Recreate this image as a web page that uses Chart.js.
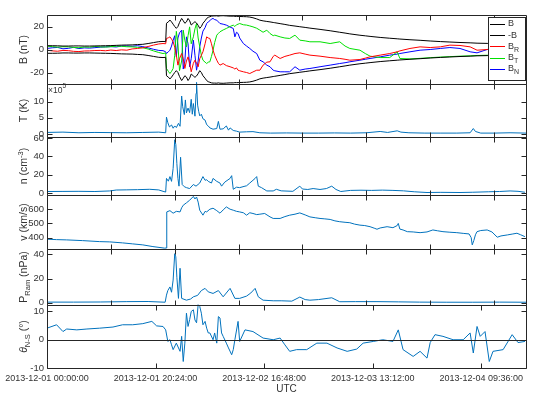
<!DOCTYPE html>
<html>
<head>
<meta charset="utf-8">
<title>Solar wind event, 2013-12-01 to 2013-12-04</title>
<script src="https://cdn.jsdelivr.net/npm/chart.js@4.4.1/dist/chart.umd.min.js"></script>
<style>
  html, body { margin: 0; padding: 0; background: #fff; }
  #wrap { position: relative; width: 536px; height: 397px; }
  #wrap canvas { position: absolute; left: 0; top: 0; }
</style>
</head>
<body>
<div id="wrap">
  <canvas id="panelB" width="536" height="397"></canvas>
  <canvas id="panelT" width="536" height="397"></canvas>
  <canvas id="panelN" width="536" height="397"></canvas>
  <canvas id="panelV" width="536" height="397"></canvas>
  <canvas id="panelP" width="536" height="397"></canvas>
  <canvas id="panelTheta" width="536" height="397"></canvas>
</div>
<script>
// --- Data (hours since 2013-12-01 00:00 UTC) ---

// magnetic field, nT
const magHours = [0, 1, 2, 3, 4, 5, 6, 7, 8, 9, 10, 11, 12, 13, 14, 15, 16, 17, 18, 19, 20, 21, 21.8, 22.3,
  22.45, 22.8, 23.1, 23.4, 23.7, 24.0, 24.3, 24.6, 24.9, 25.3, 25.6, 25.9, 26.2, 26.5, 26.8, 27.1, 27.5, 27.8,
  28.1, 28.4, 28.7, 29.0, 29.3, 29.7, 30.0, 30.3, 30.6, 30.9, 31.2, 31.5, 31.9, 32.2, 32.5, 33.1, 33.7, 34.4,
  35.0, 35.3, 35.6, 35.9, 36.2, 36.9, 37.5, 38.1, 38.7, 39.4, 40.0, 40.6, 41.3, 41.9, 42.5, 42.8, 43.8, 44.7,
  45.6, 46.6, 47.5, 48.5, 49.4, 51.3, 53.2, 55.0, 56.0, 56.9, 58.8, 59.8, 60.7, 62.6, 64.4, 65.8, 66.3, 68.2,
  70.1, 72.0, 73.9, 75.7, 77.6, 79.5, 80.8, 82.7, 85.1, 87.6, 89.8];
const bTotal = [3.3, 3.3, 3.2, 3.0, 3.0, 3.1, 3.1, 3.0, 3.0, 3.1, 3.2, 3.3, 3.4, 3.6, 3.8, 3.9, 4.0, 4.3, 4.5, 5.2, 6.0, 6.8, 7.0, 6.8,
  22.8, 24.0, 25.6, 24.0, 22.0, 20.0, 18.4, 20.0, 23.5, 27.0, 25.0, 22.8, 24.0, 27.0, 25.0, 21.3, 23.0, 24.2,
  23.0, 21.0, 18.4, 20.0, 22.8, 25.0, 27.0, 28.0, 28.5, 29.0, 29.2, 29.2, 29.3, 29.0, 29.3, 29.4, 29.2, 29.0,
  29.0, 28.8, 28.8, 28.8, 28.7, 28.6, 28.5, 28.2, 27.6, 26.6, 25.5, 24.9, 24.4, 24.0, 23.5, 23.3, 22.5, 21.8,
  21.0, 20.4, 19.8, 19.2, 18.6, 17.5, 16.3, 15.0, 14.3, 13.6, 12.4, 11.9, 11.4, 10.5, 9.8, 9.3, 9.1, 8.5,
  8.0, 7.4, 6.9, 6.5, 6.1, 5.8, 5.5, 5.3, 4.8, 4.3, 4.0];
const bR = [-0.6, -1.2, -1.5, -0.8, -1.0, -1.6, -1.8, -1.3, -1.2, -0.9, -0.8, -1.1, -0.5, -0.9, -0.3, -0.6, 0.5, 0.9, 1.5, 2.6, 3.8, 4.8, 5.2, 5.0,
  9.6, 10.2, 11.0, 9.0, 6.7, 2.0, -5.0, -13.6, -8.0, -3.5, -8.0, -16.5, -10.0, -6.4, -12.0, -19.4, -12.0, -9.3,
  -12.0, -15.0, -8.0, -5.0, -2.0, 5.0, 11.0, 10.0, 9.6, 5.0, -0.6, -5.0, -9.3, -12.0, -13.6, -12.2, -14.0, -15.0,
  -16.0, -17.0, -16.0, -18.0, -18.5, -19.4, -20.0, -20.9, -19.5, -18.0, -18.0, -13.6, -11.0, -10.7, -6.0, -4.9, -7.8, -6.0,
  -4.9, -3.5, -2.9, -4.0, -4.9, -5.8, -7.0, -7.8, -8.5, -9.3, -8.7, -7.5, -6.4, -4.9, -3.5, -2.0, -1.2, 0.9,
  2.3, 1.7, 2.3, 3.8, 3.5, 2.3, -0.6, 0.0, 1.0, 1.7, 0.9];
const bT = [2.9, 2.5, 2.0, 2.4, 2.3, 1.8, 1.5, 2.2, 2.0, 2.6, 2.3, 2.1, 2.5, 2.9, 2.8, 2.4, 2.3, 1.9, 1.5, 0.4, -1.2, -2.6, -3.5, -3.0,
  -16.5, -19.0, -20.9, -19.0, -16.5, -5.0, 15.8, 5.0, -18.4, -10.0, 16.8, 8.0, 2.3, 12.0, 19.7, 5.0, 11.0, 18.0,
  22.6, 10.0, 2.3, -5.0, -9.3, -11.0, -12.2, -11.0, -10.7, -6.0, -0.6, 6.0, 12.5, 14.0, 15.4, 17.0, 18.3, 20.0,
  21.2, 20.0, 21.5, 22.0, 22.6, 21.5, 21.2, 20.5, 19.7, 18.5, 16.8, 15.0, 16.8, 13.9, 12.0, 12.5, 11.0, 10.0,
  9.6, 12.5, 8.1, 7.5, 6.7, 6.7, 5.2, 6.7, 3.0, 0.9, -0.6, -3.5, -5.8, -7.0, -7.0, -2.0, -7.8, -8.2,
  -7.7, -7.1, -6.6, -6.2, -5.8, -5.5, -5.2, -5.0, -4.5, -4.0, -3.6];
const bN = [0.9, 1.5, 1.8, 0.6, 1.0, 1.9, 0.8, 1.4, 1.2, 1.6, 2.0, 2.3, 2.5, 2.2, 3.0, 3.1, 2.8, 3.3, 2.5, 1.4, 0.2, -0.8, -1.0, -2.0,
  -3.5, -2.0, -0.6, 3.0, 8.1, 12.0, -6.4, 10.0, 14.5, 16.8, -17.0, -10.0, 11.0, 5.0, -15.0, -8.0, 8.1, -5.0,
  -18.0, -10.0, 2.3, 10.0, 16.0, 19.0, 22.6, 24.0, 25.0, 26.5, 27.0, 26.0, 25.5, 24.0, 22.6, 22.0, 21.2, 19.5,
  18.3, 11.0, 15.0, 13.9, 10.0, 5.2, 3.0, 0.9, -1.5, -3.5, -9.3, -10.7, -13.6, -15.0, -18.0, -18.5, -19.4, -19.4,
  -19.4, -15.0, -18.0, -17.0, -16.5, -15.0, -13.6, -12.2, -11.5, -10.7, -9.3, -8.5, -7.8, -6.4, -4.9, -4.0, -3.5, -2.0,
  -0.6, 0.0, 0.9, 1.7, 0.9, -2.0, -2.9, 0.0, 1.7, 2.3, 1.7];

// proton temperature, units of 10^5 K
const tempHours = [0, 3, 6, 9, 12, 15, 18, 21, 22.3, 22.45, 22.7, 23.0, 23.4, 23.7, 24.0, 24.3, 24.7, 25.0, 25.3,
  25.5, 25.8, 26.0, 26.2, 26.5, 26.8, 27.1, 27.3, 27.5, 27.8, 28.0, 28.1, 28.3, 28.5, 28.7, 29.0, 29.3, 29.7,
  30.0, 30.3, 30.6, 31.2, 31.9, 32.2, 32.5, 33.1, 33.7, 34.1, 34.4, 35.0, 35.6, 36.2, 37.5, 38.7, 40, 42, 45,
  48, 51, 54, 57, 60, 62.6, 64, 65.8, 66.5, 68, 71, 74, 77, 79.5, 80.1, 80.5, 81.5, 84, 87, 90];
const tempE5 = [0.5, 0.6, 0.4, 0.5, 0.45, 0.4, 0.5, 0.6, 0.4, 5.2, 3.5, 2.2, 2.8, 1.8, 2.5, 2.0, 3.3, 2.4, 11.7,
  8.4, 6.0, 10.5, 6.5, 8.0, 6.6, 10.7, 6.1, 9.4, 5.5, 12.5, 15.9, 8.9, 7.0, 5.6, 6.1, 4.7, 4.3,
  2.9, 2.5, 1.9, 1.5, 1.7, 3.9, 1.5, 1.6, 2.5, 1.2, 1.9, 1.1, 0.9, 0.6, 0.7, 0.75, 0.4, 0.3, 0.35,
  0.3, 0.3, 0.35, 0.3, 0.4, 0.8, 0.5, 1.0, 0.6, 0.4, 0.3, 0.3, 0.3, 0.4, 1.7, 0.8, 0.3, 0.3, 0.4, 0.3];

// proton density, cm^-3
const densHours = [0, 3, 6, 9, 11.8, 13, 15, 17, 19.3, 21, 21.8, 22.3, 22.45, 22.8, 23.1, 23.4, 23.7, 24.0, 24.2,
  24.4, 24.6, 24.8, 25.1, 25.4, 25.8, 26.2, 26.8, 27.5, 28.0, 28.7, 29.3, 29.7, 30.0, 30.3, 30.9, 31.2, 31.9,
  32.5, 32.8, 33.4, 34.4, 34.7, 35.0, 35.6, 36.2, 37.2, 37.5, 38.1, 38.7, 39.1, 39.4, 39.7, 40.3, 41.3, 42.5,
  43.1, 44, 46.2, 47.5, 48, 49, 50, 51.3, 52.5, 53.5, 54.3, 55.2, 57, 59, 61, 63, 65, 67, 69, 71.4, 74, 77.6,
  80, 83, 85, 87, 88.5, 89.8];
const density = [1.8, 1.9, 2.0, 1.8, 2.4, 3.4, 3.6, 3.8, 4.2, 3.5, 2.0, 1.2, 16, 13, 18, 12.8, 26.8, 58, 53,
  32, 16, 7.6, 39, 9.4, 7, 6, 5, 9.4, 7.6, 11, 18, 14, 14.6, 12.8, 11, 16, 12.8,
  11, 7.6, 12, 16, 19, 4.2, 6.5, 6, 7.6, 8, 11, 14, 16, 18, 7.6, 6, 2.4, 2.4,
  4.2, 2.5, 2, 7.6, 4.5, 4, 5, 4, 5, 7.6, 4, 1.8, 3, 3.2, 3, 3.3, 3, 2.5, 1.5, 0.7, 0.9, 0.7,
  1.0, 1.5, 1.8, 2.4, 2.0, 1.0];

// bulk speed, km/s
const speedHours = [0, 1.8, 3.7, 6.7, 9.9, 11.8, 14.2, 16.1, 18.0, 19.9, 22.1, 22.4, 22.5, 23.1, 23.7, 24.3,
  25.0, 25.3, 25.6, 26.2, 26.8, 27.5, 27.8, 28.1, 28.4, 28.7, 29.3, 29.7, 30.0, 30.6, 31.2, 31.9, 32.5, 33.1,
  33.7, 34.4, 35.0, 35.6, 36.2, 36.9, 37.5, 38.1, 38.7, 39.4, 40.0, 40.9, 41.9, 42.5, 43.8, 44.7, 45.6, 46.6,
  47.5, 48.5, 49.4, 50.4, 51.3, 52.2, 53.2, 54.1, 55.0, 56.0, 56.9, 57.8, 58.8, 59.7, 60.7, 61.6, 62.0, 62.6,
  63.9, 65.0, 65.8, 66.0, 66.3, 66.9, 67.7, 68.8, 70.1, 71.4, 72.5, 73.4, 74.4, 75.7, 77.0, 78.2, 79.3, 79.7,
  79.9, 80.2, 80.5, 80.8, 81.5, 82.7, 83.6, 84.6, 85.3, 86.5, 87.4, 88.3, 89.0, 89.8];
const speed = [389, 386, 384, 379, 372, 370, 363, 356, 349, 337, 326, 327, 581, 590, 572, 585,
  581, 610, 628, 645, 663, 690, 672, 686, 650, 593, 558, 585, 581, 600, 607, 590, 572, 595,
  616, 600, 593, 585, 581, 575, 558, 575, 570, 562, 565, 570, 546, 535, 535, 548, 558, 565,
  574, 560, 546, 540, 535, 532, 528, 518, 512, 508, 505, 495, 488, 485, 477, 465, 459, 468,
  477, 470, 485, 500, 460, 454, 442, 440, 435, 440, 454, 448, 442, 438, 435, 430, 426, 400,
  349, 380, 420, 442, 450, 454, 440, 403, 412, 419, 425, 431, 420, 407];

// ram pressure, nPa
const ramHours = [0, 5, 10, 15, 19, 22.2, 22.45, 22.7, 23.1, 23.4, 23.7, 24.0, 24.2, 24.4, 24.7, 25.0, 25.3,
  26.2, 27.0, 27.5, 28.3, 29.0, 29.7, 30.3, 31.2, 32.2, 33.1, 34.4, 35.3, 36.2, 37.5, 38.3, 39.1, 39.7, 40.6,
  42.5, 44, 46, 47.5, 48.5, 49.4, 51, 53.5, 55, 58, 62, 66, 70, 75, 80, 85, 90];
const ramPressure = [0.4, 0.4, 0.5, 0.8, 0.9, 0.3, 6.2, 10, 13, 8.6, 18.7, 40.6, 38, 21, 3.5, 28.5, 3.5,
  2, 3, 4.8, 6, 10, 11.8, 8.9, 7.6, 10, 4.8, 11.8, 3.5, 3.5, 5.4, 8, 11.8, 4.8, 2,
  1.5, 1.5, 1.2, 4.6, 2.5, 2, 2.5, 4, 0.7, 0.8, 0.8, 0.6, 0.4, 0.3, 0.3, 0.4, 0.3];

// north-south flow angle, degrees
const thetaHours = [0, 1.8, 3.0, 3.7, 5.6, 7.5, 9.9, 12.4, 14.2, 16.1, 18.0, 19.7, 20.6, 21.8, 22.3, 22.7,
  23.1, 23.4, 23.7, 24.3, 25.0, 25.3, 25.6, 25.9, 26.2, 26.5, 26.8, 27.1, 27.5, 27.8, 28.1, 28.4, 28.7, 29.0,
  29.3, 29.7, 30.0, 30.3, 30.6, 31.2, 31.5, 31.9, 32.2, 32.5, 32.8, 33.1, 33.7, 34.1, 34.7, 35.0, 35.3, 35.9,
  36.2, 37.2, 38.7, 40.6, 42.5, 43.8, 44.7, 45.6, 46.9, 48.8, 50.7, 52.6, 54.5, 56.4, 58.2, 59.4, 61.3, 63.1,
  65.0, 66.0, 66.9, 68.8, 70.1, 71.4, 72.0, 72.9, 74.4, 76.3, 78.2, 79.5, 80.1, 80.8, 81.4, 82.3, 83.1, 83.8,
  85.7, 87.4, 88.5, 89.8];
const thetaNS = [4.1, 5.3, 2.9, 3.8, 3.5, 3.8, 4.1, 4.5, 5.3, 5.3, 5.7, 6.5, 4.9, 4.7, 3.5, -0.6,
  0, -1.8, -3.5, -1.2, -4.1, 1.2, -7.7, -1.2, 9.4, 4.7, 7.1, 10, 10.6, 7, 6, 12.4, 11.8, 9.4,
  5.3, 6.5, 4.1, 2.4, 2.4, 0, 2.4, -1.2, 8.2, 7.7, 2.4, 1.2, -1.2, -2.9, -5.3, -3.5, 0, 6.5,
  -0.6, 3.5, 2.9, 0.6, 0, 0.6, -1.8, -4.1, -3.5, -3.5, -1.2, -1.2, -2.9, -4.1, -3.3, -1.2, -0.6, 0,
  -0.6, 3.5, -3.5, -5.9, -4.1, -6.5, -1, 1.8, 1.2, 0, 0, 2.4, -4.7, 4.7, 1.2, 2.9, -7.7, -4.1,
  -3.5, 1.8, -1, -0.6];

// axis ticks
const panelTickHours = [12, 24, 36, 48, 60, 72, 84];
const dateTickHours = [0, 20.4, 40.8, 61.2, 81.6];
const bTicks = [-20, 0, 20];
const tempTicks = [0, 5, 10];
const densTicks = [0, 20, 40, 60];
const speedTicks = [400, 500, 600];
const ramTicks = [0, 20, 40];
const thetaTicks = [-10, 0, 10];

// --- Styling ---
const fontFamily = "'Liberation Sans', Arial, Helvetica, sans-serif";
const textColor = '#333333';
const axisColor = '#262626';
const plasmaBlue = '#0072BD';
const startUtc = Date.UTC(2013, 11, 1);

function toPoints(hours, values) {
    return hours.map((h, i) => ({ x: h, y: values[i] }));
}

function stampFor(hours) {
    const d = new Date(startUtc + Math.round(hours * 3600000));
    return d.toISOString().slice(0, 19).replace('T', ' ');
}

// box, inward tick marks and optional zero line (MATLAB look)
const framePlugin = {
    id: 'panelFrame',
    afterDatasetsDraw(chart, args, o) {
        const { ctx, chartArea: a, scales: { x, y } } = chart;
        const L = Math.round(a.left) + 0.5, R = Math.round(a.right) + 0.5;
        const T = Math.round(a.top) + 0.5, B = Math.round(a.bottom) + 0.5;
        const len = 5;
        ctx.save();
        ctx.strokeStyle = axisColor;
        ctx.lineWidth = 1;
        ctx.beginPath();
        if (o.zeroLine) {
            const zy = Math.round(y.getPixelForValue(0)) + 0.5;
            ctx.moveTo(L, zy); ctx.lineTo(R, zy);
        }
        ctx.rect(L, T, R - L, B - T);
        o.xTicks.forEach(h => {
            const px = Math.round(x.getPixelForValue(h)) + 0.5;
            ctx.moveTo(px, T); ctx.lineTo(px, T + len);
            ctx.moveTo(px, B); ctx.lineTo(px, B - len);
        });
        y.ticks.forEach(t => {
            const py = Math.round(y.getPixelForValue(t.value)) + 0.5;
            ctx.moveTo(L, py); ctx.lineTo(L + len, py);
            ctx.moveTo(R, py); ctx.lineTo(R - len, py);
        });
        ctx.stroke();
        ctx.restore();
    }
};

// rotated y-axis title with sub/superscripts
const yTitlePlugin = {
    id: 'yTitle',
    afterDraw(chart, args, o) {
        if (!o.parts) return;
        const { ctx, chartArea: a } = chart;
        const fontFor = p => `${p.italic ? 'italic ' : ''}${p.sub || p.sup ? 7.5 : 10.5}px ${fontFamily}`;
        ctx.save();
        ctx.translate(o.x, (a.top + a.bottom) / 2);
        ctx.rotate(-Math.PI / 2);
        ctx.fillStyle = textColor;
        ctx.textBaseline = 'middle';
        ctx.textAlign = 'left';
        let total = 0;
        o.parts.forEach(p => { ctx.font = fontFor(p); total += ctx.measureText(p.text).width; });
        let cx = -total / 2;
        o.parts.forEach(p => {
            ctx.font = fontFor(p);
            const dy = p.sub ? 3.5 : (p.sup ? -3.5 : 0);
            ctx.fillText(p.text, cx, dy);
            cx += ctx.measureText(p.text).width;
        });
        if (o.exponent) {
            // "x10^5" multiplier in the top-left corner
            ctx.setTransform(1, 0, 0, 1, 0, 0);
            ctx.textBaseline = 'alphabetic';
            ctx.font = `8.5px ${fontFamily}`;
            ctx.fillText('\u00d710', a.left + 1, a.top + 9);
            const w = ctx.measureText('\u00d710').width;
            ctx.font = `6.5px ${fontFamily}`;
            ctx.fillText(o.exponent, a.left + 1 + w, a.top + 4);
        }
        ctx.restore();
    }
};

// boxed legend with subscripts for the field panel
const legendPlugin = {
    id: 'fieldLegend',
    afterDraw(chart, args, o) {
        if (!o.entries) return;
        const { ctx } = chart;
        ctx.save();
        ctx.fillStyle = '#ffffff';
        ctx.strokeStyle = axisColor;
        ctx.lineWidth = 1;
        ctx.fillRect(488.5, 17.5, 37, 63);
        ctx.strokeRect(488.5, 17.5, 37, 63);
        o.entries.forEach((e, i) => {
            const cy = 24 + i * 11.2;
            ctx.strokeStyle = e.color;
            ctx.beginPath();
            ctx.moveTo(490, Math.round(cy) + 0.5);
            ctx.lineTo(505, Math.round(cy) + 0.5);
            ctx.stroke();
            ctx.fillStyle = textColor;
            ctx.textBaseline = 'middle';
            ctx.font = `9px ${fontFamily}`;
            ctx.fillText(e.main, 508, cy);
            if (e.sub) {
                const w = ctx.measureText(e.main).width;
                ctx.font = `7px ${fontFamily}`;
                ctx.fillText(e.sub, 508 + w, cy + 3.5);
            }
        });
        ctx.restore();
    }
};

const panels = [
    { canvas: 'panelB', top: 15, bottom: 84, min: -30, max: 30, ticks: bTicks,
      title: [{ text: 'B (nT)' }],
      datasets: [
          { data: toPoints(magHours, bTotal), borderColor: '#000000' },
          { data: toPoints(magHours, bTotal.map(v => -v)), borderColor: '#000000' },
          { data: toPoints(magHours, bR), borderColor: '#ff0000' },
          { data: toPoints(magHours, bT), borderColor: '#00e000' },
          { data: toPoints(magHours, bN), borderColor: '#0000ff' }
      ],
      legend: [
          { main: 'B', color: '#000000' },
          { main: '-B', color: '#000000' },
          { main: 'B', sub: 'R', color: '#ff0000' },
          { main: 'B', sub: 'T', color: '#00e000' },
          { main: 'B', sub: 'N', color: '#0000ff' }
      ] },
    { canvas: 'panelT', top: 84, bottom: 137, min: -0.9, max: 15.4, ticks: tempTicks,
      title: [{ text: 'T (K)' }], exponent: '5',
      datasets: [{ data: toPoints(tempHours, tempE5), borderColor: plasmaBlue, clip: { left: 0, top: 4, right: 0, bottom: 0 } }] },
    { canvas: 'panelN', top: 137, bottom: 195, min: -2, max: 61, ticks: densTicks,
      title: [{ text: 'n (cm' }, { text: '-3', sup: true }, { text: ')' }],
      datasets: [{ data: toPoints(densHours, density), borderColor: plasmaBlue }] },
    { canvas: 'panelV', top: 195, bottom: 249, min: 320, max: 700, ticks: speedTicks,
      title: [{ text: 'v (km/s)' }],
      datasets: [{ data: toPoints(speedHours, speed), borderColor: plasmaBlue }] },
    { canvas: 'panelP', top: 249, bottom: 305, min: -2, max: 44.5, ticks: ramTicks,
      title: [{ text: 'P' }, { text: 'Ram', sub: true }, { text: ' (nPa)' }],
      datasets: [{ data: toPoints(ramHours, ramPressure), borderColor: plasmaBlue }] },
    { canvas: 'panelTheta', top: 305, bottom: 368, min: -10, max: 12.3, ticks: thetaTicks,
      title: [{ text: '\u03b8', italic: true }, { text: 'N-S', sub: true }, { text: ' (\u00b0)' }],
      zeroLine: true, last: true,
      datasets: [{ data: toPoints(thetaHours, thetaNS), borderColor: plasmaBlue, clip: { left: 0, top: 3, right: 0, bottom: 0 } }] }
];

panels.forEach(p => {
    const ctx = document.getElementById(p.canvas).getContext('2d');
    new Chart(ctx, {
        type: 'line',
        data: { datasets: p.datasets },
        plugins: [framePlugin, yTitlePlugin, legendPlugin],
        options: {
            responsive: false,
            animation: false,
            events: [],
            layout: { padding: { top: p.top, bottom: p.last ? 0 : 397 - p.bottom, left: 0, right: 10 } },
            elements: { point: { radius: 0 }, line: { borderWidth: 1, tension: 0 } },
            plugins: {
                legend: { display: false },
                tooltip: { enabled: false },
                panelFrame: { xTicks: p.last ? dateTickHours : panelTickHours, zeroLine: !!p.zeroLine },
                yTitle: { parts: p.title, x: 24, exponent: p.exponent },
                fieldLegend: { entries: p.legend }
            },
            scales: {
                x: {
                    type: 'linear', min: 0, max: 90,
                    display: !!p.last,
                    afterFit: s => { s.height = p.last ? 397 - p.bottom : 0; },
                    afterBuildTicks: s => { s.ticks = dateTickHours.map(v => ({ value: v })); },
                    grid: { display: false, drawTicks: false },
                    border: { display: false },
                    ticks: {
                        autoSkip: false, maxRotation: 0, padding: 5,
                        color: textColor, font: { family: fontFamily, size: 9 },
                        callback: v => stampFor(v)
                    },
                    title: {
                        display: true, text: 'UTC', color: textColor,
                        font: { family: fontFamily, size: 10 }, padding: { top: 0, bottom: 2 }
                    }
                },
                y: {
                    type: 'linear', min: p.min, max: p.max,
                    afterFit: s => { s.width = 47; },
                    afterBuildTicks: s => { s.ticks = p.ticks.map(v => ({ value: v })); },
                    grid: { display: false, drawTicks: false },
                    border: { display: false },
                    ticks: { padding: 3, color: textColor, font: { family: fontFamily, size: 9.5 } }
                }
            }
        }
    });
});
</script>
</body>
</html>
